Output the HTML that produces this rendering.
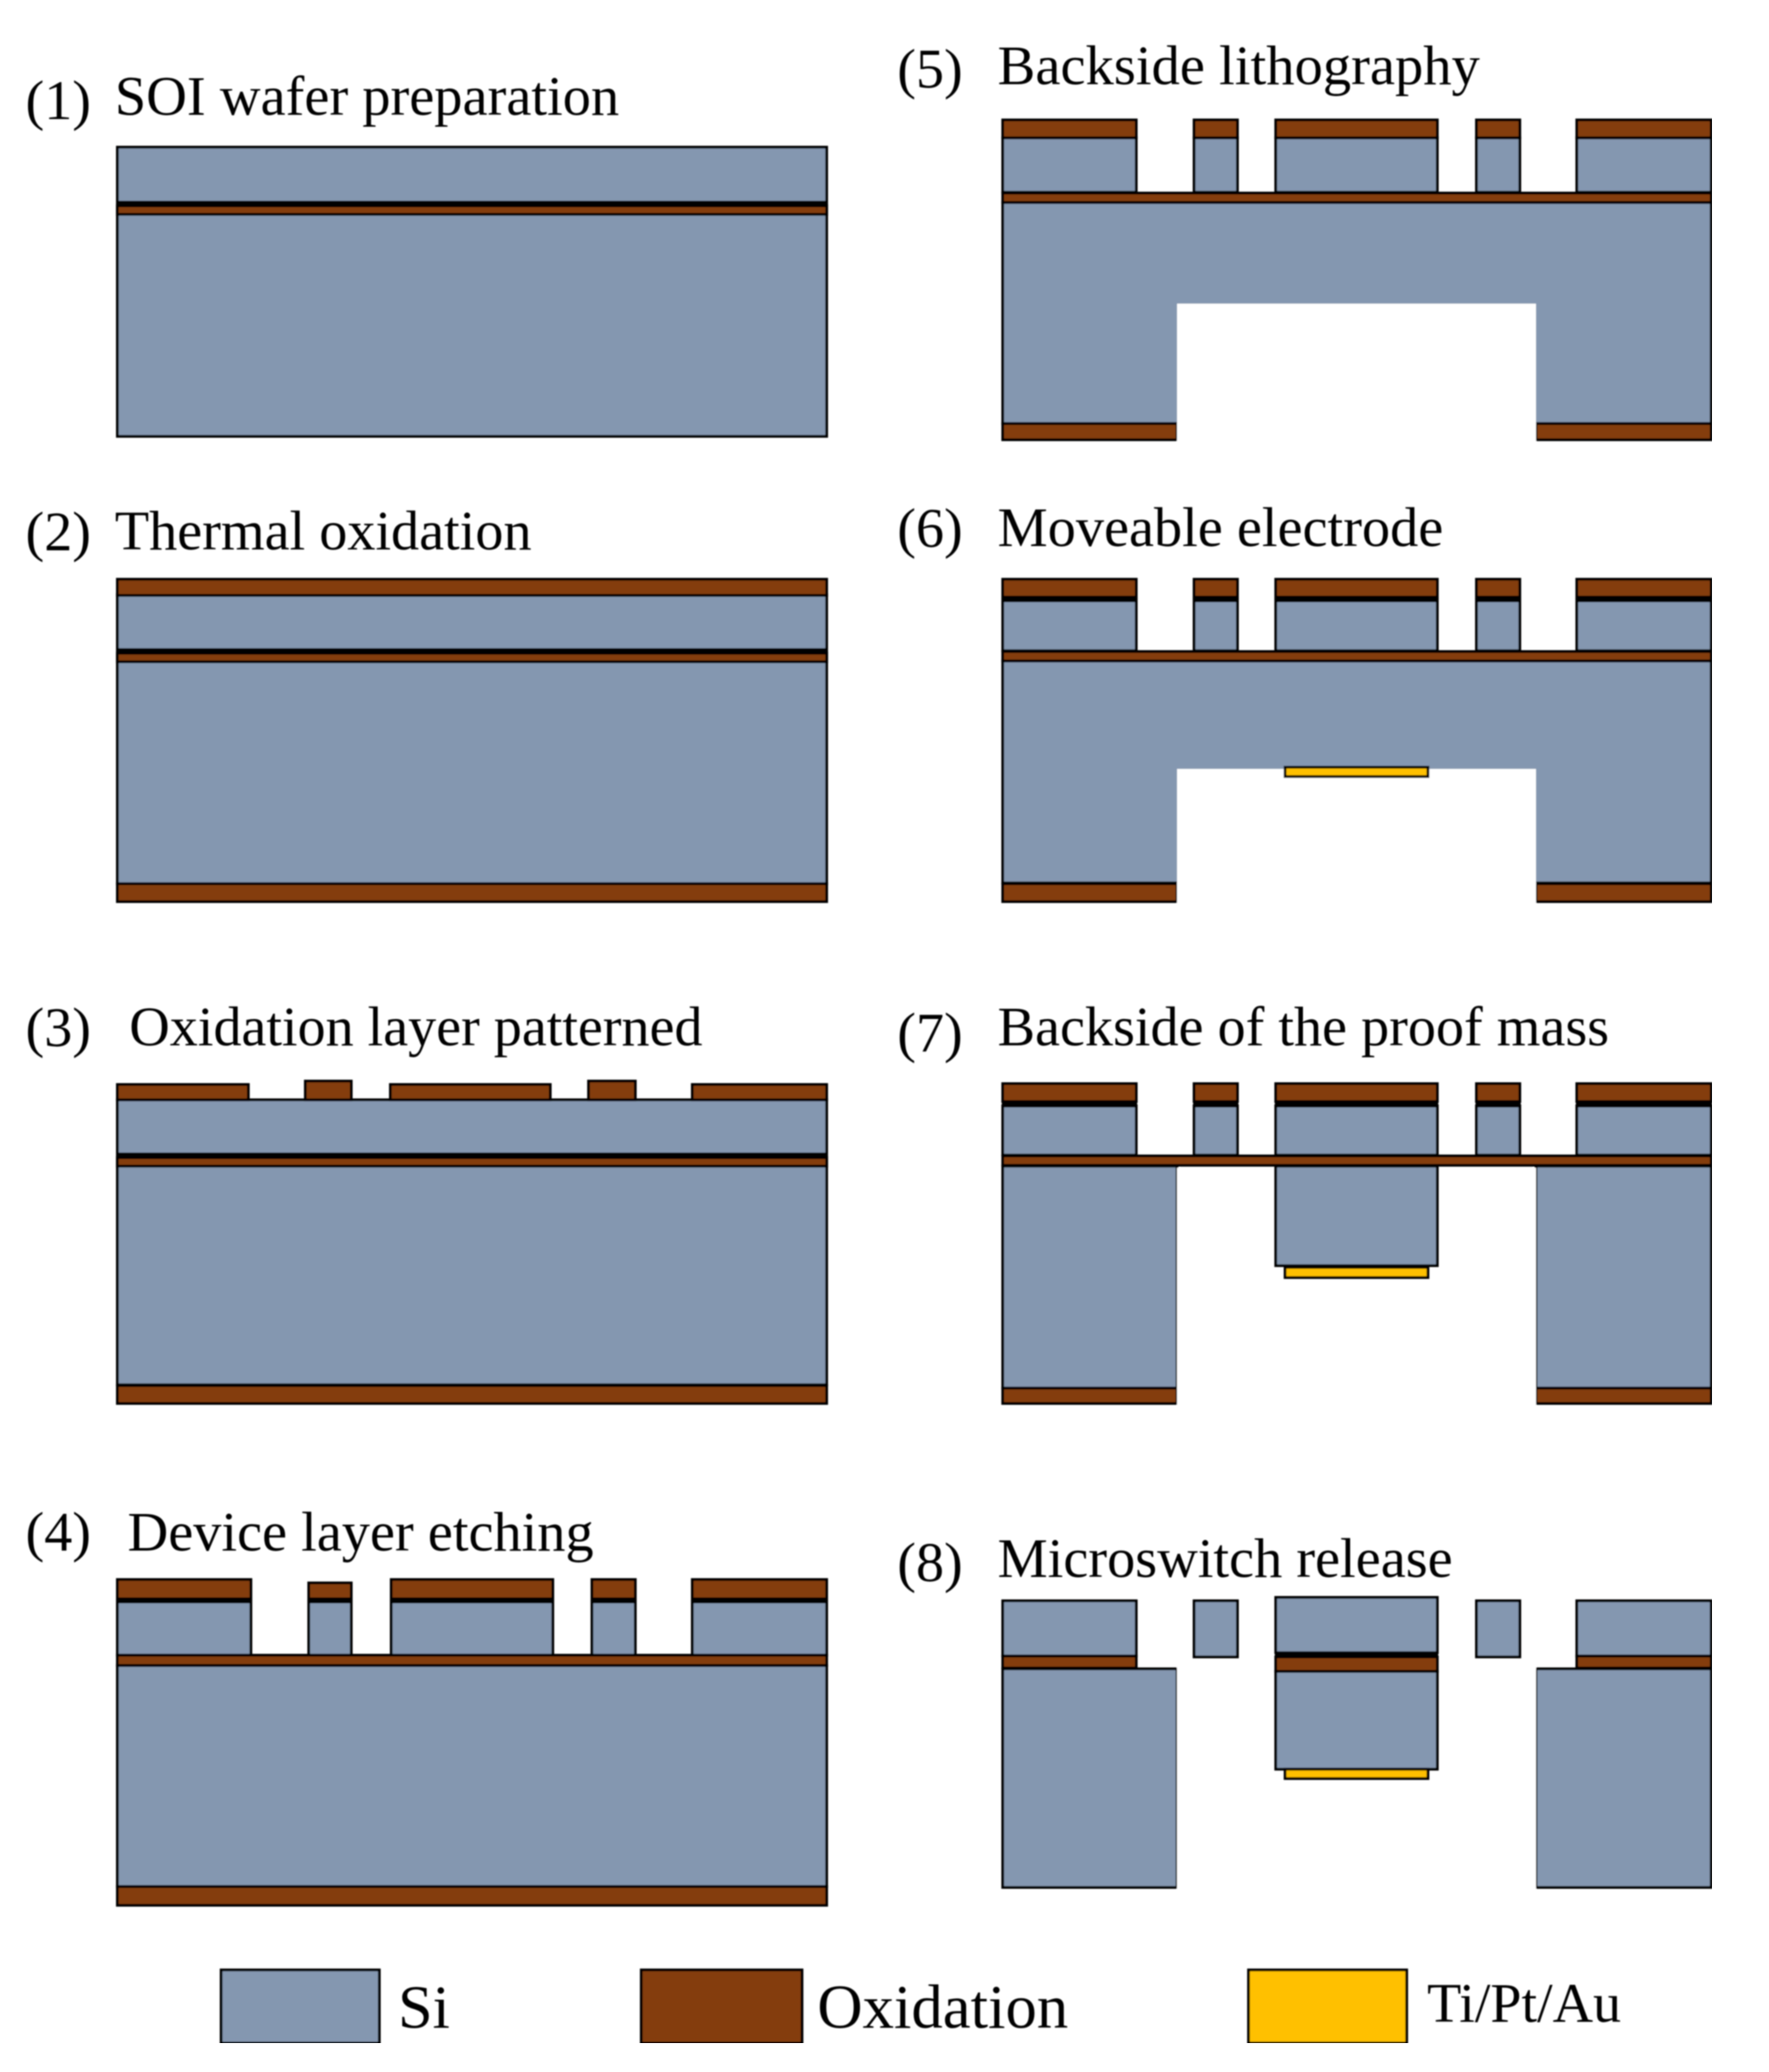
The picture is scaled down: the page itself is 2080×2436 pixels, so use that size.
<!DOCTYPE html>
<html><head><meta charset="utf-8"><style>
html,body{margin:0;padding:0;background:#fff;width:2080px;height:2436px;overflow:hidden}
svg{display:block}
text{font-family:"Liberation Serif",serif;font-size:66px;fill:#000}
.s{fill:#8497b0;stroke:#000;stroke-width:3.2}
.o{fill:#843c0c;stroke:#000;stroke-width:3.2}
.a{fill:#ffc000;stroke:#000;stroke-width:3.2}
.w{fill:#fff;stroke:none}
.k{fill:#000;stroke:none}
</style></head><body>
<svg xmlns="http://www.w3.org/2000/svg" width="2080" height="2436" viewBox="0 0 2080 2436">
<defs><filter id="b" x="0" y="0" width="100%" height="100%"><feGaussianBlur stdDeviation="0.8"/></filter></defs>
<rect width="2080" height="2436" fill="#fff"/>
<g filter="url(#b)">
<!-- Panel 1 -->
<text x="30" y="140" textLength="77" lengthAdjust="spacingAndGlyphs">(1)</text>
<text x="135" y="135" textLength="593" lengthAdjust="spacingAndGlyphs">SOI wafer preparation</text>
<rect class="s" x="138" y="173" width="834" height="340"/>
<rect class="k" x="137" y="236" width="836" height="8"/>
<rect class="o" x="138" y="242" width="834" height="10"/>

<!-- Panel 2 -->
<text x="30" y="647" textLength="77" lengthAdjust="spacingAndGlyphs">(2)</text>
<text x="135" y="646" textLength="490" lengthAdjust="spacingAndGlyphs">Thermal oxidation</text>
<rect class="s" x="138" y="699" width="834" height="340"/>
<rect class="o" x="138" y="681" width="834" height="19"/>
<rect class="k" x="137" y="762" width="836" height="8"/>
<rect class="o" x="138" y="768" width="834" height="10"/>
<rect class="o" x="138" y="1039" width="834" height="21"/>

<!-- Panel 3 -->
<text x="30" y="1230" textLength="77" lengthAdjust="spacingAndGlyphs">(3)</text>
<text x="152" y="1229" textLength="674" lengthAdjust="spacingAndGlyphs">Oxidation layer patterned</text>
<rect class="s" x="138" y="1293" width="834" height="335"/>
<rect class="o" x="138" y="1275" width="154" height="18"/>
<rect class="o" x="359" y="1271" width="54" height="22"/>
<rect class="o" x="459" y="1275" width="188" height="18"/>
<rect class="o" x="692" y="1271" width="55" height="22"/>
<rect class="o" x="814" y="1275" width="158" height="18"/>
<rect class="k" x="137" y="1355" width="836" height="8"/>
<rect class="o" x="138" y="1361" width="834" height="10"/>
<rect class="o" x="138" y="1629" width="834" height="21"/>

<!-- Panel 4 -->
<text x="30" y="1823" textLength="77" lengthAdjust="spacingAndGlyphs">(4)</text>
<text x="150" y="1823" textLength="548" lengthAdjust="spacingAndGlyphs">Device layer etching</text>
<rect class="s" x="138" y="1883" width="157" height="63"/>
<rect class="s" x="363" y="1883" width="50" height="63"/>
<rect class="s" x="460" y="1883" width="190" height="63"/>
<rect class="s" x="696" y="1883" width="51" height="63"/>
<rect class="s" x="814" y="1883" width="158" height="63"/>
<rect class="o" x="138" y="1857" width="157" height="23"/>
<rect class="o" x="363" y="1861" width="50" height="19"/>
<rect class="o" x="460" y="1857" width="190" height="23"/>
<rect class="o" x="696" y="1857" width="51" height="23"/>
<rect class="o" x="814" y="1857" width="158" height="23"/>
<rect class="k" x="137" y="1878" width="159" height="7"/>
<rect class="k" x="362" y="1878" width="52" height="7"/>
<rect class="k" x="459" y="1878" width="192" height="7"/>
<rect class="k" x="695" y="1878" width="53" height="7"/>
<rect class="k" x="813" y="1878" width="160" height="7"/>
<rect class="s" x="138" y="1958" width="834" height="260"/>
<rect class="o" x="138" y="1946" width="834" height="12"/>
<rect class="o" x="138" y="2218" width="834" height="22"/>

<!-- Panel 5 -->
<text x="1055" y="103" textLength="77" lengthAdjust="spacingAndGlyphs">(5)</text>
<text x="1173" y="99" textLength="567" lengthAdjust="spacingAndGlyphs">Backside lithography</text>
<rect class="s" x="1179" y="162" width="157" height="64"/>
<rect class="s" x="1404" y="162" width="51" height="64"/>
<rect class="s" x="1500" y="162" width="190" height="64"/>
<rect class="s" x="1736" y="162" width="51" height="64"/>
<rect class="s" x="1854" y="162" width="158" height="64"/>
<rect class="o" x="1179" y="141" width="157" height="21"/>
<rect class="o" x="1404" y="141" width="51" height="21"/>
<rect class="o" x="1500" y="141" width="190" height="21"/>
<rect class="o" x="1736" y="141" width="51" height="21"/>
<rect class="o" x="1854" y="141" width="158" height="21"/>
<rect class="s" x="1179" y="238" width="833" height="260"/>
<rect class="o" x="1179" y="227" width="833" height="11"/>
<rect class="o" x="1179" y="498" width="205" height="19"/>
<rect class="o" x="1806" y="498" width="206" height="19"/>
<rect class="w" x="1384" y="357" width="422" height="165"/>

<!-- Panel 6 -->
<text x="1055" y="643" textLength="77" lengthAdjust="spacingAndGlyphs">(6)</text>
<text x="1173" y="642" textLength="524" lengthAdjust="spacingAndGlyphs">Moveable electrode</text>
<rect class="s" x="1179" y="705" width="157" height="60"/>
<rect class="s" x="1404" y="705" width="51" height="60"/>
<rect class="s" x="1500" y="705" width="190" height="60"/>
<rect class="s" x="1736" y="705" width="51" height="60"/>
<rect class="s" x="1854" y="705" width="158" height="60"/>
<rect class="o" x="1179" y="681" width="157" height="21"/>
<rect class="o" x="1404" y="681" width="51" height="21"/>
<rect class="o" x="1500" y="681" width="190" height="21"/>
<rect class="o" x="1736" y="681" width="51" height="21"/>
<rect class="o" x="1854" y="681" width="158" height="21"/>
<rect class="k" x="1178" y="701" width="159" height="7"/>
<rect class="k" x="1403" y="701" width="53" height="7"/>
<rect class="k" x="1499" y="701" width="192" height="7"/>
<rect class="k" x="1735" y="701" width="53" height="7"/>
<rect class="k" x="1853" y="701" width="160" height="7"/>
<rect class="s" x="1179" y="777" width="833" height="261"/>
<rect class="o" x="1179" y="766" width="833" height="11"/>
<rect class="o" x="1179" y="1039" width="205" height="21"/>
<rect class="o" x="1806" y="1039" width="206" height="21"/>
<rect class="w" x="1384" y="904" width="422" height="160"/>
<rect class="a" x="1511" y="902" width="168" height="11"/>

<!-- Panel 7 -->
<text x="1055" y="1236" textLength="77" lengthAdjust="spacingAndGlyphs">(7)</text>
<text x="1173" y="1229" textLength="719" lengthAdjust="spacingAndGlyphs">Backside of the proof mass</text>
<rect class="s" x="1179" y="1300" width="157" height="58"/>
<rect class="s" x="1404" y="1300" width="51" height="58"/>
<rect class="s" x="1500" y="1300" width="190" height="58"/>
<rect class="s" x="1736" y="1300" width="51" height="58"/>
<rect class="s" x="1854" y="1300" width="158" height="58"/>
<rect class="o" x="1179" y="1274" width="157" height="21"/>
<rect class="o" x="1404" y="1274" width="51" height="21"/>
<rect class="o" x="1500" y="1274" width="190" height="21"/>
<rect class="o" x="1736" y="1274" width="51" height="21"/>
<rect class="o" x="1854" y="1274" width="158" height="21"/>
<rect class="k" x="1178" y="1294" width="159" height="8"/>
<rect class="k" x="1403" y="1294" width="53" height="8"/>
<rect class="k" x="1499" y="1294" width="192" height="8"/>
<rect class="k" x="1735" y="1294" width="53" height="8"/>
<rect class="k" x="1853" y="1294" width="160" height="8"/>
<rect class="s" x="1179" y="1371" width="205" height="261"/>
<rect class="s" x="1806" y="1371" width="206" height="261"/>
<rect class="s" x="1500" y="1371" width="190" height="117"/>
<rect class="o" x="1179" y="1359" width="833" height="11"/>
<rect class="a" x="1511" y="1490" width="168" height="12"/>
<rect class="o" x="1179" y="1632" width="205" height="18"/>
<rect class="o" x="1806" y="1632" width="206" height="18"/>
<rect class="w" x="1384" y="1373" width="3" height="280"/>
<rect class="w" x="1803" y="1373" width="3" height="280"/>

<!-- Panel 8 -->
<text x="1055" y="1859" textLength="77" lengthAdjust="spacingAndGlyphs">(8)</text>
<text x="1173" y="1854" textLength="535" lengthAdjust="spacingAndGlyphs">Microswitch release</text>
<rect class="s" x="1179" y="1962" width="205" height="257"/>
<rect class="s" x="1806" y="1962" width="206" height="257"/>
<rect class="w" x="1384" y="1955" width="5" height="270"/>
<rect class="w" x="1801" y="1955" width="5" height="270"/>
<rect class="s" x="1179" y="1882" width="157" height="65"/>
<rect class="s" x="1404" y="1882" width="51" height="66"/>
<rect class="s" x="1500" y="1878" width="190" height="65"/>
<rect class="s" x="1736" y="1882" width="51" height="66"/>
<rect class="s" x="1854" y="1882" width="158" height="65"/>
<rect class="o" x="1179" y="1947" width="157" height="14"/>
<rect class="o" x="1854" y="1947" width="158" height="14"/>
<rect class="k" x="1499" y="1942" width="192" height="7"/>
<rect class="o" x="1500" y="1948" width="190" height="17"/>
<rect class="s" x="1500" y="1965" width="190" height="115"/>
<rect class="a" x="1511" y="2080" width="168" height="11"/>

<!-- Legend -->
<rect class="s" x="260" y="2316" width="186" height="86"/>
<text x="468" y="2384" style="font-size:72px" textLength="61" lengthAdjust="spacingAndGlyphs">Si</text>
<rect class="o" x="754" y="2316" width="189" height="86"/>
<text x="961" y="2384" style="font-size:73px" textLength="295" lengthAdjust="spacingAndGlyphs">Oxidation</text>
<rect class="a" x="1468" y="2316" width="186" height="86"/>
<text x="1678" y="2377" style="font-size:66px" textLength="228" lengthAdjust="spacingAndGlyphs">Ti/Pt/Au</text>
</g>
</svg>
</body></html>
